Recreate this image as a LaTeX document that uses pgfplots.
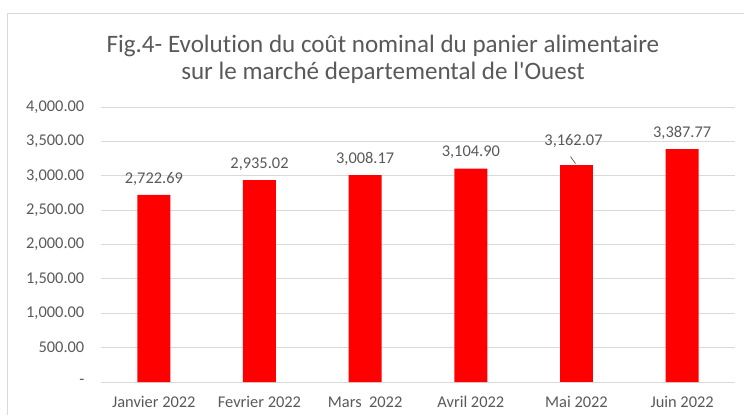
\documentclass[border=0pt]{standalone}
\usepackage{fontspec}
\setmainfont[Ligatures=NoCommon]{Carlito}
\usepackage{pgfplots}
\pgfplotsset{compat=1.18}
\definecolor{txt}{HTML}{595959}
\definecolor{gridc}{HTML}{D9D9D9}
\definecolor{barred}{HTML}{FF0000}
\newlength{\px}
\setlength{\px}{0.75pt}

\begin{document}
\begin{tikzpicture}[x=\px,y=\px]
\useasboundingbox (0,0) rectangle (744,415);
\draw[gridc,line width=1\px] (7,0) -- (7,401) -- (744,401);
\node[txt,font=\fontsize{18.8}{20}\selectfont,align=center] at (383,356) {Fig.4- Evolution du coût nominal du panier alimentaire\\sur le marché departemental de l\textquotesingle Ouest};
\begin{axis}[
    at={(101\px,33\px)},
    anchor=south west,
    scale only axis,
    width=634\px,
    height=275\px,
    ybar,
    bar width=33\px,
    bar shift=0pt,
    xmin=-0.5, xmax=5.5,
    ymin=0, ymax=4000,
    xtick={0,1,2,3,4,5},
    xticklabels={Janvier 2022, Fevrier 2022, Mars\ \ 2022, Avril 2022, Mai 2022, Juin 2022},
    ytick={0,500,1000,1500,2000,2500,3000,3500,4000},
    yticklabels={-, 500.00, {1,000.00}, {1,500.00}, {2,000.00}, {2,500.00}, {3,000.00}, {3,500.00}, {4,000.00}},
    axis line style={draw=none},
    axis x line*=bottom,
    axis y line*=left,
    major tick length=0pt,
    ymajorgrids,
    grid style={gridc,line width=1\px},
    tick label style={txt,font=\fontsize{12.3}{14}\selectfont},
    yticklabel style={xshift=-12\px},
    xticklabel style={anchor=base,yshift=-25\px},
    nodes near coords,
    point meta=explicit symbolic,
    nodes near coords style={txt,font=\fontsize{12.3}{14}\selectfont,yshift=5\px},
    clip=false,
]
\addplot[fill=barred,draw=none] coordinates {
    (0,2722.69) [{2,722.69}]
    (1,2935.02) [{2,935.02}]
    (2,3008.17) [{3,008.17}]
    (3,3104.90) [{3,104.90}]
    (5,3387.77) [{3,387.77}]
};
\addplot[fill=barred,draw=none,nodes near coords style={xshift=-3\px,yshift=7\px}] coordinates {
    (4,3162.07) [{3,162.07}]
};
\draw[txt,line width=0.7\px] (axis cs:4,3162.07) ++(-1\px,1\px) -- ++(-5\px,7\px);
\end{axis}
\end{tikzpicture}
\end{document}
